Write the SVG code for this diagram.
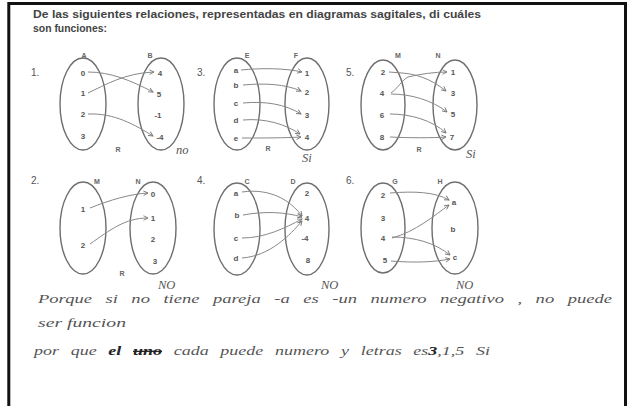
<svg xmlns="http://www.w3.org/2000/svg" width="627" height="406" viewBox="0 0 627 406">
<style>
.frame{fill:none;stroke:#111;stroke-width:3}
.title{font-family:"Liberation Sans",Arial,sans-serif;font-size:11px;font-weight:bold;fill:#444}
.num{font-family:"Liberation Sans",Arial,sans-serif;font-size:10px;fill:#555}
.set{fill:none;stroke:#6e6e6e;stroke-width:1.4}
.el{font-family:"Liberation Sans",Arial,sans-serif;font-size:8px;font-weight:bold;fill:#555;text-anchor:middle}
.lab{font-family:"Liberation Sans",Arial,sans-serif;font-size:7px;font-weight:bold;fill:#666;text-anchor:middle}
.arr{fill:none;stroke:#888;stroke-width:1;marker-end:url(#ah)}
.hw{font-family:"Liberation Serif",serif;font-style:italic;font-size:12.5px;fill:#555}
</style>
<defs>
<marker id="ah" viewBox="0 0 8 8" refX="7" refY="4" markerWidth="6" markerHeight="6" orient="auto" markerUnits="userSpaceOnUse">
<path d="M1,1 L7,4 L1,7" fill="none" stroke="#777" stroke-width="1.2"/>
</marker>
</defs>
<rect width="627" height="406" fill="#fff"/>
<path class="frame" d="M8.8,406 V3.5 H625.5 V406"/>

<g id="enunciado">
<text class="title" x="33" y="18" textLength="448" lengthAdjust="spacingAndGlyphs">De las siguientes relaciones, representadas en diagramas sagitales, di cuáles</text>
<text class="title" x="33" y="32" textLength="74" lengthAdjust="spacingAndGlyphs">son funciones:</text>
</g>

<g id="diagrama1">
<text class="num" x="31" y="76">1.</text>
<ellipse class="set" cx="83" cy="104" rx="23" ry="46"/>
<ellipse class="set" cx="161" cy="104" rx="23" ry="46"/>
<text class="lab" x="84" y="58">A</text>
<text class="lab" x="150" y="58">B</text>
<text class="el" x="83" y="76">0</text>
<text class="el" x="83" y="96">1</text>
<text class="el" x="83" y="117">2</text>
<text class="el" x="83" y="139">3</text>
<text class="el" x="160" y="76">4</text>
<text class="el" x="159" y="97">5</text>
<text class="el" x="158" y="118">-1</text>
<text class="el" x="160" y="140">-4</text>
<text class="lab" x="118" y="152">R</text>
<text class="hw" x="176" y="154" font-size="8">no</text>
</g>

<g id="diagrama3">
<text class="num" x="197" y="76">3.</text>
<ellipse class="set" cx="237" cy="104" rx="23" ry="46"/>
<ellipse class="set" cx="307" cy="104" rx="22" ry="46"/>
<text class="lab" x="247" y="58">E</text>
<text class="lab" x="296" y="58">F</text>
<text class="el" x="236" y="73">a</text>
<text class="el" x="236" y="88">b</text>
<text class="el" x="236" y="106">c</text>
<text class="el" x="236" y="123">d</text>
<text class="el" x="236" y="141">e</text>
<text class="el" x="307" y="76">1</text>
<text class="el" x="307" y="95">2</text>
<text class="el" x="307" y="118">3</text>
<text class="el" x="307" y="140">4</text>
<text class="lab" x="268" y="151">R</text>
<text class="hw" x="302" y="162" font-size="10">Si</text>
</g>

<g id="diagrama5">
<text class="num" x="346" y="76">5.</text>
<ellipse class="set" cx="383" cy="105" rx="22" ry="45"/>
<ellipse class="set" cx="455" cy="105" rx="22" ry="45"/>
<text class="lab" x="398" y="58">M</text>
<text class="lab" x="438" y="58">N</text>
<text class="el" x="383" y="75">2</text>
<text class="el" x="382" y="96">4</text>
<text class="el" x="382" y="118">6</text>
<text class="el" x="382" y="140">8</text>
<text class="el" x="453" y="75">1</text>
<text class="el" x="453" y="96">3</text>
<text class="el" x="453" y="117">5</text>
<text class="el" x="452" y="140">7</text>
<text class="lab" x="419" y="152">R</text>
<text class="hw" x="466" y="158" font-size="10">Si</text>
</g>

<g id="diagrama2">
<text class="num" x="31" y="184">2.</text>
<ellipse class="set" cx="83" cy="228" rx="23" ry="46"/>
<ellipse class="set" cx="153" cy="228" rx="23" ry="46"/>
<text class="lab" x="97" y="184">M</text>
<text class="lab" x="138" y="184">N</text>
<text class="el" x="83" y="212">1</text>
<text class="el" x="83" y="248">2</text>
<text class="el" x="153" y="197">0</text>
<text class="el" x="153" y="221">1</text>
<text class="el" x="153" y="242">2</text>
<text class="el" x="155" y="264">3</text>
<text class="lab" x="122" y="276">R</text>
<text class="hw" x="158" y="289" font-size="7">NO</text>
</g>

<g id="diagrama4">
<text class="num" x="197" y="184">4.</text>
<ellipse class="set" cx="237" cy="229" rx="23" ry="46"/>
<ellipse class="set" cx="307" cy="229" rx="22" ry="46"/>
<text class="lab" x="247" y="184">C</text>
<text class="lab" x="293" y="184">D</text>
<text class="el" x="236" y="196">a</text>
<text class="el" x="237" y="218">b</text>
<text class="el" x="236" y="241">c</text>
<text class="el" x="236" y="261">d</text>
<text class="el" x="307" y="196">2</text>
<text class="el" x="307" y="221">4</text>
<text class="el" x="305" y="241">-4</text>
<text class="el" x="308" y="263">8</text>
<text class="hw" x="321" y="289" font-size="7">NO</text>
</g>

<g id="diagrama6">
<text class="num" x="346" y="184">6.</text>
<ellipse class="set" cx="383" cy="228" rx="22" ry="45"/>
<ellipse class="set" cx="455" cy="228" rx="23" ry="46"/>
<text class="lab" x="395" y="184">G</text>
<text class="lab" x="440" y="184">H</text>
<text class="el" x="383" y="198">2</text>
<text class="el" x="383" y="221">3</text>
<text class="el" x="383" y="241">4</text>
<text class="el" x="385" y="263">5</text>
<text class="el" x="454" y="205">a</text>
<text class="el" x="453" y="232">b</text>
<text class="el" x="455" y="260">c</text>
<text class="hw" x="456" y="289" font-size="7">NO</text>
</g>

<g id="conectores">
<path class="arr" d="M88,72 C110,72 130,80 153,92"/>
<path class="arr" d="M88,93 C105,85 125,73 154,72"/>
<path class="arr" d="M88,114 C115,113 135,125 153,136"/>

<path class="arr" d="M241,70 C260,68 285,68 302,72"/>
<path class="arr" d="M243,85 C265,83 285,84 301,91"/>
<path class="arr" d="M243,103 C265,101 285,104 301,114"/>
<path class="arr" d="M243,120 C265,118 285,124 300,134"/>
<path class="arr" d="M242,138 C262,138 285,138 301,137"/>

<path class="arr" d="M389,72 L402,73 C415,74 430,78 446,91"/>
<path class="arr" d="M391,93 C398,88 402,80 408,77 C420,74 435,72 447,72"/>
<path class="arr" d="M391,94 C410,94 432,100 447,112"/>
<path class="arr" d="M390,114 C410,114 432,120 446,133"/>
<path class="arr" d="M390,137 C410,138 432,138 446,137"/>

<path class="arr" d="M90,208 C110,200 130,194 148,193"/>
<path class="arr" d="M90,244 C110,230 125,218 148,218"/>

<path class="arr" d="M242,192 C270,188 290,200 302,216"/>
<path class="arr" d="M243,215 C265,211 285,212 302,217"/>
<path class="arr" d="M242,238 C265,238 285,228 302,219"/>
<path class="arr" d="M242,258 C270,256 290,235 302,221"/>

<path class="arr" d="M390,193 C415,191 435,192 449,200"/>
<path class="arr" d="M392,238 C415,232 435,215 449,205"/>
<path class="arr" d="M392,237 C415,237 435,243 450,255"/>
<path class="arr" d="M391,261 C415,263 435,262 450,259"/>
</g>

<g id="respuesta">
<text class="hw" x="38" y="303" textLength="574" lengthAdjust="spacingAndGlyphs" word-spacing="6">Porque  si no tiene  pareja -a es -un numero negativo , no puede</text>
<text class="hw" x="38" y="327" textLength="88" lengthAdjust="spacingAndGlyphs">ser funcion</text>
<text class="hw" x="34" y="355" textLength="456" lengthAdjust="spacingAndGlyphs" word-spacing="5">por que <tspan font-weight="bold" fill="#222">el</tspan> <tspan font-weight="bold" fill="#222" text-decoration="line-through">uno</tspan> cada puede numero y letras es<tspan font-weight="bold" fill="#222">3</tspan>,1,5 Si</text>
</g>
</svg>
